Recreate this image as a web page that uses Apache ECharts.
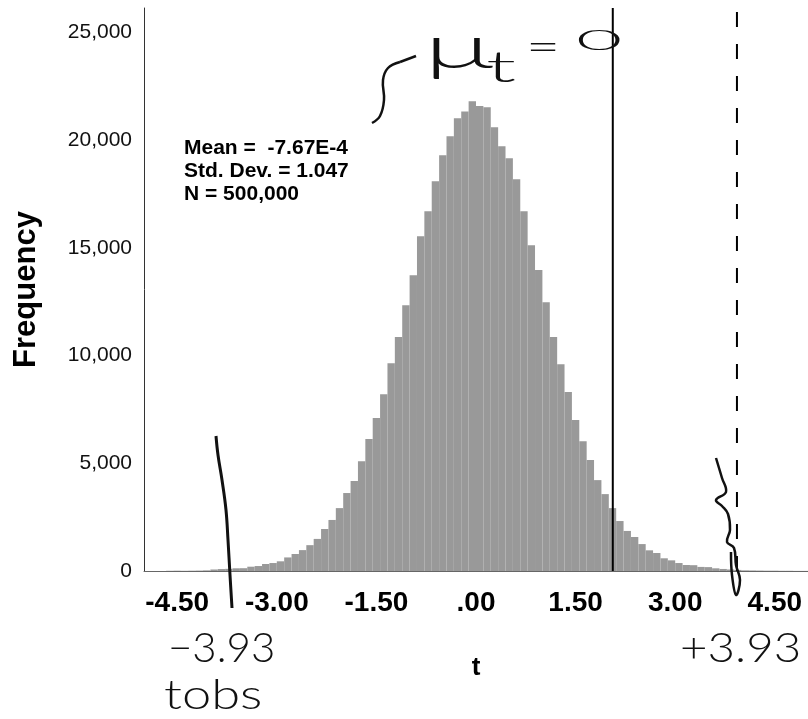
<!DOCTYPE html>
<html>
<head>
<meta charset="utf-8">
<script src="https://cdn.jsdelivr.net/npm/echarts@6/dist/echarts.min.js"></script>
<style>
  html, body { margin: 0; padding: 0; background: #fff; }
  #main { width: 808px; height: 719px; }
</style>
</head>
<body>
<div id="main"></div>
<script>
var chartDom = document.getElementById('main');
var myChart = echarts.init(chartDom);
var option;

// histogram bins: 90 bins of width 1/9 starting at t = -5
var binStart = -5;
var binWidth = 1 / 9;
var counts = [
  0, 0, 0, 10, 15, 10, 15, 20, 30, 70,
  90, 100, 125, 130, 200, 230, 325, 370, 450, 630,
  790, 970, 1200, 1490, 1950, 2370, 2920, 3620, 4180, 5100,
  6130, 7100, 8210, 9650, 10860, 12340, 13730, 15540, 16700, 18100,
  19300, 20180, 21020, 21340, 21810, 21590, 21530, 20600, 19720, 19160,
  18190, 16700, 15130, 13970, 12480, 10860, 9600, 8310, 7010, 6030,
  5150, 4220, 3570, 2920, 2320, 1860, 1580, 1250, 960, 835,
  590, 495, 370, 280, 270, 190, 180, 125, 95, 70,
  50, 30, 25, 20, 15, 15, 10, 10, 5, 5
];

var xTicks = [-4.5, -3, -1.5, 0, 1.5, 3, 4.5];
var yMax = 26140;
var muLine = 2.06;    // solid line
var tobsLine = 3.93;  // dashed line

var statsLines = ['Mean =  -7.67E-4', 'Std. Dev. = 1.047', 'N = 500,000'];

var bins = counts.map(function (c, i) {
  return [binStart + i * binWidth, binStart + (i + 1) * binWidth, c];
});

function renderBar(params, api) {
  var lo = api.value(0), hi = api.value(1), n = api.value(2);
  var p0 = api.coord([lo, n]);
  var p1 = api.coord([hi, 0]);
  return {
    type: 'rect',
    shape: { x: p0[0], y: p0[1], width: p1[0] - p0[0], height: p1[1] - p0[1] },
    style: { fill: '#999999' }
  };
}

function handText(str, x, y, size, sx, sy) {
  return {
    type: 'text', x: x, y: y, z: 100,
    scaleX: sx || 1, scaleY: sy || 1,
    style: {
      text: str, fill: '#111', fontFamily: 'Lato, sans-serif', fontWeight: 300,
      fontSize: size, align: 'left', verticalAlign: 'middle',
      textAlign: 'left', textVerticalAlign: 'middle'
    }
  };
}
function stroke(points, w) {
  return {
    type: 'polyline', z: 100,
    shape: { points: points, smooth: 0.4 },
    style: { stroke: '#111', lineWidth: w, fill: null }
  };
}

option = {
  animation: false,
  backgroundColor: '#fff',
  grid: { left: 144, right: 0, top: 8, bottom: 148 },
  xAxis: {
    type: 'value',
    min: -5,
    max: 5,
    name: 't',
    nameLocation: 'middle',
    nameGap: 84,
    nameTextStyle: { fontSize: 26, fontWeight: 'bold', color: '#000', fontFamily: 'Liberation Sans, Arial' },
    axisLine: { show: true, onZero: false, lineStyle: { color: '#666', width: 1 } },
    axisTick: { show: false },
    splitLine: { show: false },
    axisLabel: {
      customValues: xTicks,
      margin: 18,
      fontSize: 28,
      fontWeight: 'bold',
      color: '#000',
      fontFamily: 'Liberation Sans, Arial',
      formatter: function (v) {
        var s = Number(v).toFixed(2);
        return s.replace(/^0\./, '.');
      }
    }
  },
  yAxis: {
    type: 'value',
    min: 0,
    max: yMax,
    interval: 5000,
    name: 'Frequency',
    nameLocation: 'middle',
    nameRotate: 90,
    nameGap: 102,
    nameTextStyle: { fontSize: 31, fontWeight: 'bold', color: '#000', fontFamily: 'Liberation Sans, Arial' },
    axisLine: { show: true, onZero: false, lineStyle: { color: '#333', width: 1 } },
    axisTick: { show: false },
    splitLine: { show: false },
    axisLabel: {
      showMaxLabel: false,
      margin: 12,
      fontSize: 21,
      color: '#111',
      padding: [8, 0, 0, 0],
      fontFamily: 'Liberation Sans, Arial',
      formatter: function (v) { return v.toLocaleString('en-US'); }
    }
  },
  series: [
    {
      type: 'custom',
      renderItem: renderBar,
      encode: { x: [0, 1], y: 2 },
      data: bins
    },
    {
      type: 'line',
      data: [[muLine, 0], [muLine, yMax]],
      symbol: 'none',
      lineStyle: { color: '#000', width: 2 },
      z: 5
    },
    {
      type: 'line',
      data: [[tobsLine, 0], [tobsLine, yMax * 0.995]],
      symbol: 'none',
      lineStyle: { color: '#000', width: 2, type: [15, 17] },
      z: 5
    }
  ],
  graphic: [
    {
      type: 'text', left: 184, top: 137, z: 50,
      style: {
        text: statsLines.join('\n'),
        fontSize: 21, fontWeight: 'bold', lineHeight: 23,
        fill: '#000', fontFamily: 'Liberation Sans, Arial'
      }
    },
    // handwritten notes
    stroke([[400, 62], [388, 68], [383, 80], [384, 100], [380, 116], [372, 123]], 2.5),
    stroke([[400, 62], [416, 56]], 2.5),
    handText('\u03bc', 424, 48, 62, 1.9, 1),
    handText('t', 486, 68, 44, 2, 1),
    handText('=', 526, 47, 42, 1.4, 1),
    handText('0', 576, 41, 40, 2, 0.7),
    stroke([[216, 436], [218, 455], [222, 480], [226, 510], [228, 540], [230, 575], [232, 608]], 3),
    handText('\u22123.93', 168, 648, 42),
    handText('tobs', 164, 695, 42, 1.25, 1),
    stroke([[716, 458], [722, 478], [726, 492], [716, 500], [722, 506], [728, 514], [730, 530],
            [727, 542], [734, 548], [736, 565], [740, 580], [736, 595], [732, 575], [731, 552]], 2.5),
    handText('+3.93', 680, 648, 42, 1.13, 1)
  ]
};

option && myChart.setOption(option);
</script>
</body>
</html>
